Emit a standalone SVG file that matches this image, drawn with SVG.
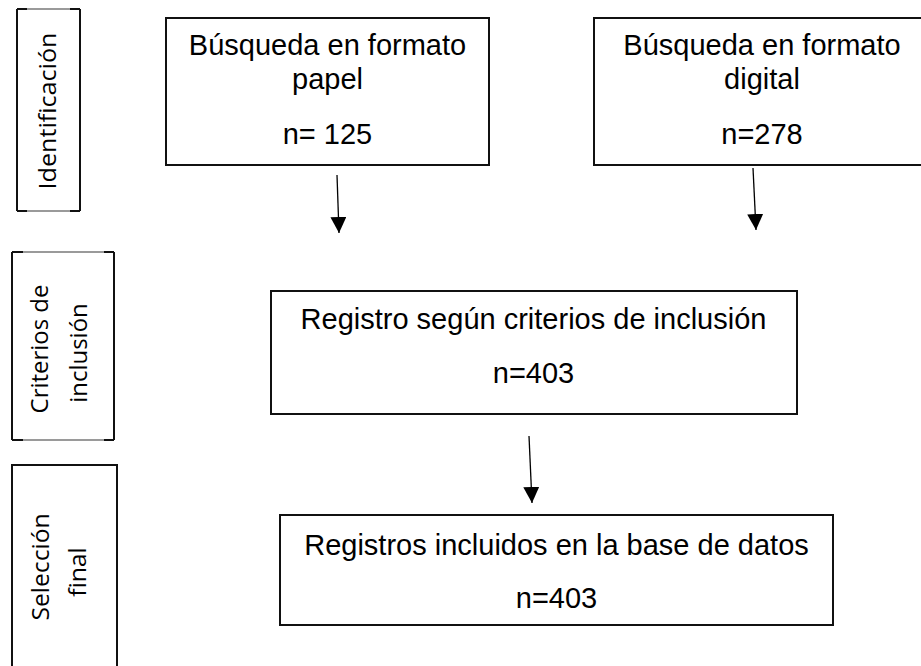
<svg xmlns="http://www.w3.org/2000/svg" width="921" height="666" viewBox="0 0 921 666">
<style>
.box{fill:#fff;stroke:#111;stroke-width:2}
.edge{stroke:#111;stroke-width:2;fill:none}
.soft{stroke:#9a9a9a;stroke-width:2;fill:none}
.t{font-family:"Liberation Sans",Arial,sans-serif;font-size:29px;fill:#000;text-anchor:middle}
.v{font-family:"Open Sans","DejaVu Sans",sans-serif;font-size:23.5px;fill:#000;text-anchor:middle}
.conn{stroke:#000;stroke-width:1.3;fill:none;marker-end:url(#ah)}
</style>
<defs>
<marker id="ah" markerUnits="userSpaceOnUse" markerWidth="16" markerHeight="16" viewBox="0 0 16 16" refX="16" refY="8" orient="auto">
<path d="M0,0 L16,8 L0,16 Z" fill="#000"/>
</marker>
</defs>
<rect width="921" height="666" fill="#fff"/>

<g id="stage-identificacion">
<rect x="17" y="9" width="63" height="202" fill="#fff"/>
<path class="edge" d="M17,9 V211 M80,9 V211 M17,9 H27 M70,9 H80 M17,211 H27 M70,211 H80"/>
<path class="soft" d="M27,9 H70 M27,211 H70"/>
<text class="v" transform="translate(56,111) rotate(-90) scale(1.07,1)">Identificación</text>
</g>

<g id="stage-criterios">
<rect x="12" y="252" width="102" height="188" fill="#fff"/>
<path class="edge" d="M12,252 V440 M114,252 V440 M12,252 H23 M104,252 H114 M12,440 H23 M104,440 H114"/>
<path class="soft" d="M23,252 H104 M23,440 H104"/>
<text class="v" transform="translate(48,349) rotate(-90) scale(1.02,1)">Criterios de</text>
<text class="v" transform="translate(87,353) rotate(-90) scale(1.02,1)">inclusión</text>
</g>

<g id="stage-seleccion">
<path class="edge" d="M12,680 V465 H117 V680"/>
<text class="v" transform="translate(49,567) rotate(-90) scale(1.05,1)">Selección</text>
<text class="v" transform="translate(86,572) rotate(-90) scale(1.05,1)">final</text>
</g>

<g id="n-papel">
<rect class="box" x="166" y="18" width="323" height="147"/>
<text class="t" x="327.5" y="55">Búsqueda en formato</text>
<text class="t" x="327.5" y="89">papel</text>
<text class="t" x="327.5" y="144">n= 125</text>
</g>

<g id="n-digital">
<rect class="box" x="594" y="18" width="340" height="147"/>
<text class="t" x="762" y="55">Búsqueda en formato</text>
<text class="t" x="762" y="89">digital</text>
<text class="t" x="762" y="144">n=278</text>
</g>

<g id="n-registro">
<rect class="box" x="271" y="291" width="526" height="123"/>
<text class="t" x="533.5" y="329">Registro según criterios de inclusión</text>
<text class="t" x="533.5" y="383">n=403</text>
</g>

<g id="n-incluidos">
<rect class="box" x="280" y="515" width="553" height="110"/>
<text class="t" x="556.5" y="555">Registros incluidos en la base de datos</text>
<text class="t" x="556.5" y="608">n=403</text>
</g>

<g id="connectors">
<line class="conn" x1="337" y1="175" x2="339" y2="233"/>
<line class="conn" x1="753" y1="168" x2="756" y2="230"/>
<line class="conn" x1="529" y1="436" x2="532" y2="503"/>
</g>
</svg>
